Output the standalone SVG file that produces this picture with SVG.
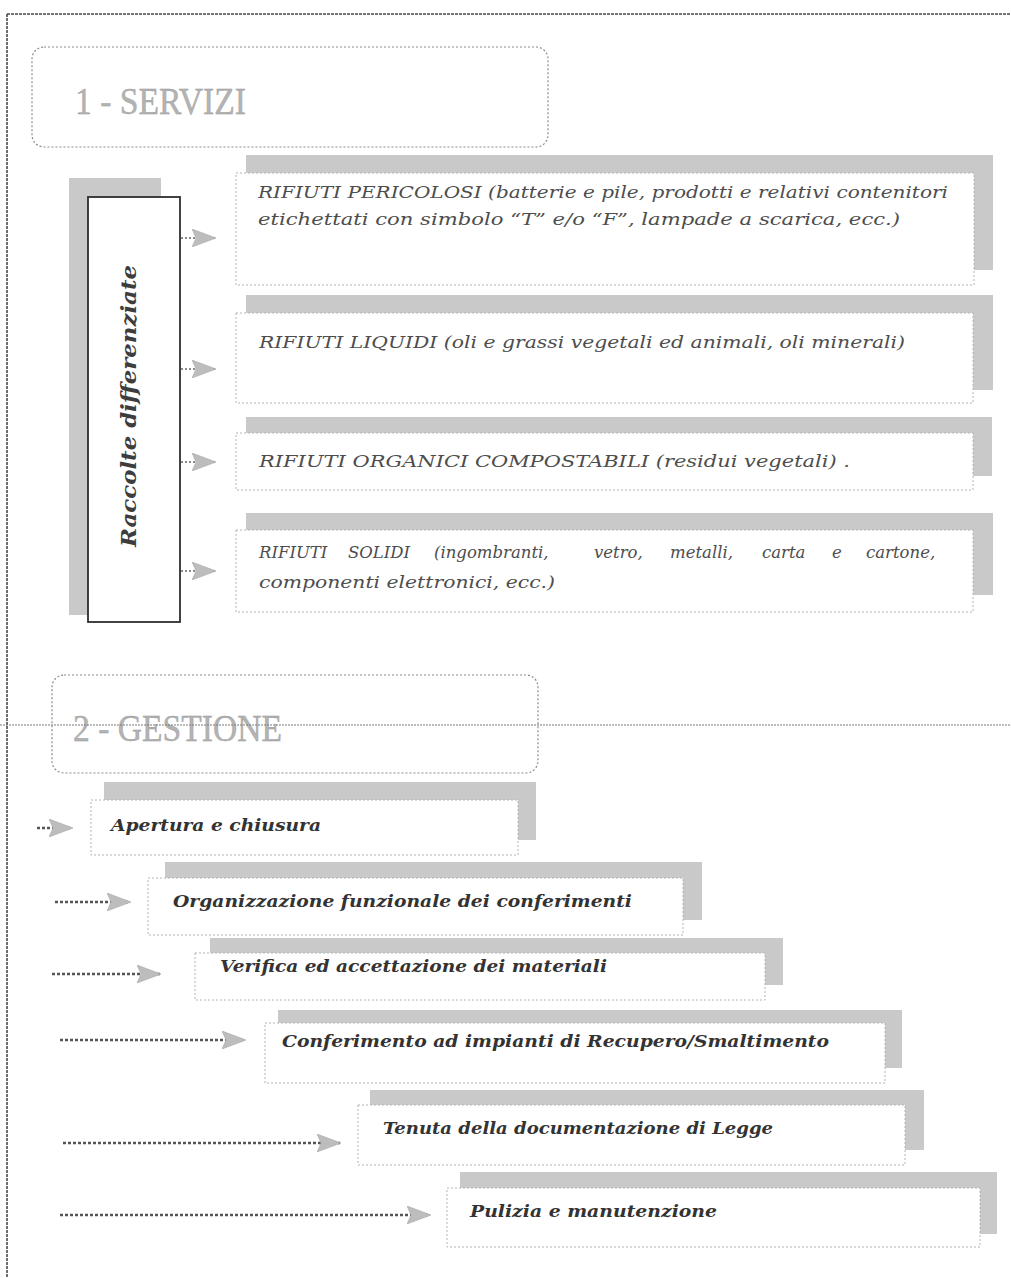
<svg xmlns="http://www.w3.org/2000/svg" width="1011" height="1278" viewBox="0 0 1011 1278">
<defs>
<style>
.frame{fill:none;stroke:#4a4a4a;stroke-width:1.6;stroke-dasharray:3 1}
.hline{fill:none;stroke:#7a7a7a;stroke-width:1.2;stroke-dasharray:2 1}
.hdr{fill:#fff;stroke:#8c8c8c;stroke-width:1.2;stroke-dasharray:2 2}
.hdrtxt{font-family:"Liberation Serif","Times New Roman",serif;font-size:38px;fill:#b3b3b3;stroke:#9a9a9a;stroke-width:0.4}
.shadow{fill:#c9c9c9}
.box{fill:#fff;stroke:#b4b4b4;stroke-width:1;stroke-dasharray:2 2}
.vbox{fill:#fff;stroke:#2e2e2e;stroke-width:1.8}
.stxt{font-family:"DejaVu Serif","Liberation Serif",serif;font-style:italic;font-size:16px;fill:#4d4d4d}
.gtxt{font-family:"DejaVu Serif","Liberation Serif",serif;font-style:italic;font-weight:bold;font-size:17px;fill:#333}
.vtxt{font-family:"DejaVu Serif","Liberation Serif",serif;font-style:italic;font-weight:bold;font-size:21px;fill:#3d3d3d}
.conn{fill:none;stroke:#555;stroke-width:2.4;stroke-dasharray:3 2}
.sconn{fill:none;stroke:#666;stroke-width:1.6;stroke-dasharray:2 2}
</style>
<marker id="ah" viewBox="0 0 24 18" refX="23" refY="9" markerWidth="24" markerHeight="18" markerUnits="userSpaceOnUse" orient="auto">
<path d="M0,0 L24,9 L0,18 L4,9 Z" fill="#bdbdbd" stroke="#a8a8a8" stroke-width="0.6"/>
</marker>
</defs>
<rect x="0" y="0" width="1011" height="1278" fill="#fff"/>
<g id="page-frame">
<line class="frame" x1="7" y1="14" x2="1011" y2="14"/>
<line class="frame" x1="7" y1="14" x2="7" y2="1278"/>
</g>
<g id="header-servizi">
<rect class="hdr" x="32" y="47" width="516" height="100" rx="12"/>
<text class="hdrtxt" x="75" y="114" textLength="171" lengthAdjust="spacingAndGlyphs">1 - SERVIZI</text>
</g>
<g id="raccolte">
<rect class="shadow" x="69" y="178" width="92" height="437"/>
<rect class="vbox" x="88" y="197" width="92" height="425"/>
<text class="vtxt" transform="translate(136,547) rotate(-90)" textLength="282" lengthAdjust="spacingAndGlyphs">Raccolte differenziate</text>
</g>
<g id="pericolosi">
<rect class="shadow" x="246" y="155" width="747" height="115"/>
<rect class="box" x="236" y="173" width="738" height="112"/>
<text class="stxt" x="258" y="198" textLength="690" lengthAdjust="spacingAndGlyphs">RIFIUTI PERICOLOSI (batterie e pile, prodotti e relativi contenitori</text>
<text class="stxt" x="258" y="225" textLength="642" lengthAdjust="spacingAndGlyphs">etichettati con simbolo “T” e/o “F”, lampade a scarica, ecc.)</text>
</g>
<g id="liquidi">
<rect class="shadow" x="246" y="295" width="747" height="95"/>
<rect class="box" x="236" y="313" width="737" height="90"/>
<text class="stxt" x="259" y="348" textLength="646" lengthAdjust="spacingAndGlyphs">RIFIUTI LIQUIDI (oli e grassi vegetali ed animali, oli minerali)</text>
</g>
<g id="organici">
<rect class="shadow" x="246" y="417" width="746" height="59"/>
<rect class="box" x="236" y="433" width="737" height="57"/>
<text class="stxt" x="259" y="467" textLength="591" lengthAdjust="spacingAndGlyphs">RIFIUTI ORGANICI COMPOSTABILI (residui vegetali) .</text>
</g>
<g id="solidi">
<rect class="shadow" x="246" y="513" width="747" height="82"/>
<rect class="box" x="236" y="530" width="737" height="82"/>
<text class="stxt" y="558" style="font-size:16.5px"><tspan x="259">RIFIUTI</tspan><tspan x="348">SOLIDI</tspan><tspan x="434">(ingombranti,</tspan><tspan x="594">vetro,</tspan><tspan x="670">metalli,</tspan><tspan x="762">carta</tspan><tspan x="832">e</tspan><tspan x="866">cartone,</tspan></text>
<text class="stxt" x="259" y="588" textLength="296" lengthAdjust="spacingAndGlyphs">componenti elettronici, ecc.)</text>
</g>
<g id="header-gestione">
<rect class="hdr" x="52" y="675" width="486" height="98" rx="12"/>
<text class="hdrtxt" x="73" y="741" textLength="209" lengthAdjust="spacingAndGlyphs">2 - GESTIONE</text>
</g>
<g id="section-divider">
<line class="hline" x1="0" y1="725" x2="1011" y2="725"/>
</g>
<g id="apertura">
<rect class="shadow" x="104" y="782" width="432" height="58"/>
<rect class="box" x="91" y="800" width="427" height="55"/>
<text class="gtxt" x="111" y="831" textLength="210" lengthAdjust="spacingAndGlyphs">Apertura e chiusura</text>
</g>
<g id="organizzazione">
<rect class="shadow" x="165" y="862" width="537" height="58"/>
<rect class="box" x="148" y="878" width="535" height="57"/>
<text class="gtxt" x="173" y="907" textLength="459" lengthAdjust="spacingAndGlyphs">Organizzazione funzionale dei conferimenti</text>
</g>
<g id="verifica">
<rect class="shadow" x="210" y="938" width="573" height="47"/>
<rect class="box" x="195" y="953" width="570" height="47"/>
<text class="gtxt" x="220" y="972" textLength="387" lengthAdjust="spacingAndGlyphs">Verifica ed accettazione dei materiali</text>
</g>
<g id="conferimento">
<rect class="shadow" x="278" y="1010" width="624" height="58"/>
<rect class="box" x="265" y="1023" width="620" height="60"/>
<text class="gtxt" x="282" y="1047" textLength="547" lengthAdjust="spacingAndGlyphs">Conferimento ad impianti di Recupero/Smaltimento</text>
</g>
<g id="tenuta">
<rect class="shadow" x="370" y="1090" width="554" height="60"/>
<rect class="box" x="358" y="1105" width="547" height="60"/>
<text class="gtxt" x="383" y="1134" textLength="390" lengthAdjust="spacingAndGlyphs">Tenuta della documentazione di Legge</text>
</g>
<g id="pulizia">
<rect class="shadow" x="460" y="1172" width="537" height="62"/>
<rect class="box" x="447" y="1188" width="533" height="59"/>
<text class="gtxt" x="470" y="1217" textLength="247" lengthAdjust="spacingAndGlyphs">Pulizia e manutenzione</text>
</g>
<g id="connectors">
<line class="sconn" x1="181" y1="238" x2="215" y2="238" marker-end="url(#ah)"/>
<line class="sconn" x1="181" y1="369" x2="215" y2="369" marker-end="url(#ah)"/>
<line class="sconn" x1="181" y1="462" x2="215" y2="462" marker-end="url(#ah)"/>
<line class="sconn" x1="181" y1="571" x2="215" y2="571" marker-end="url(#ah)"/>
<line class="conn" x1="37" y1="828" x2="72" y2="828" marker-end="url(#ah)"/>
<line class="conn" x1="55" y1="902" x2="130" y2="902" marker-end="url(#ah)"/>
<line class="conn" x1="52" y1="974" x2="160" y2="974" marker-end="url(#ah)"/>
<line class="conn" x1="60" y1="1040" x2="245" y2="1040" marker-end="url(#ah)"/>
<line class="conn" x1="63" y1="1143" x2="340" y2="1143" marker-end="url(#ah)"/>
<line class="conn" x1="60" y1="1215" x2="430" y2="1215" marker-end="url(#ah)"/>
</g>
</svg>
